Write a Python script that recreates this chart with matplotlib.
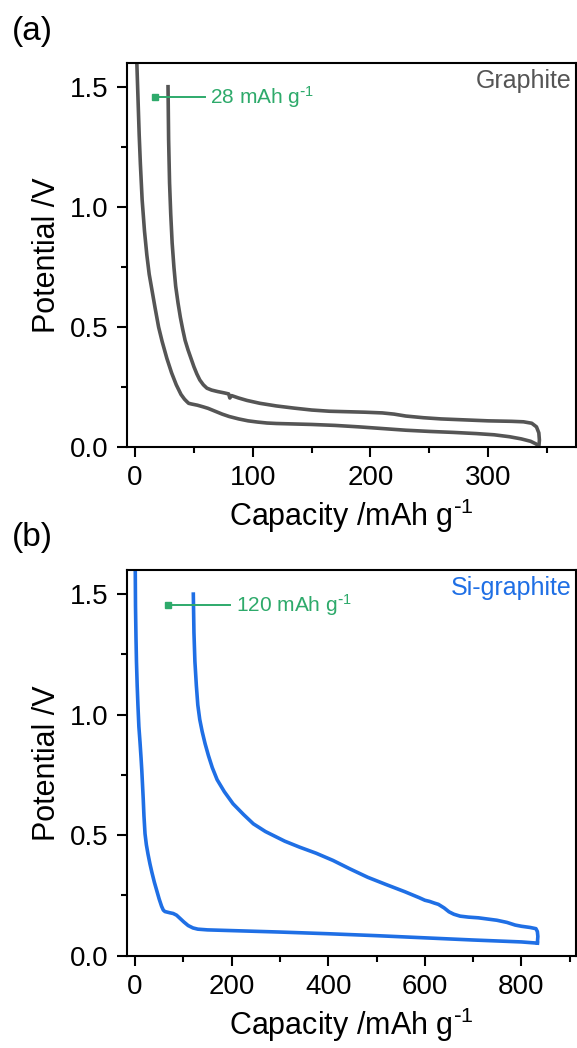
import matplotlib
matplotlib.use("Agg")
import matplotlib.pyplot as plt
from matplotlib.ticker import MultipleLocator

plt.rcParams['font.family'] = ['Liberation Sans', 'DejaVu Sans']
plt.rcParams['mathtext.default'] = 'regular'

# graphite: discharge (lower branch) and charge (upper branch)
gr_dis_x = [0.8, 1.5, 2.5, 3.5, 4.5, 6, 8, 10, 12, 14.5, 17, 20, 23, 27, 31, 35, 39, 42, 44, 45.5,
            48, 53, 58, 62, 68, 74, 80, 88, 96, 104, 112, 120, 135, 150, 170, 190, 210, 230, 250,
            270, 290, 305, 318, 328, 336, 341, 343]
gr_dis_y = [1.75, 1.6, 1.45, 1.3, 1.18, 1.03, 0.9, 0.8, 0.72, 0.65, 0.58, 0.5, 0.44, 0.37, 0.31,
            0.26, 0.22, 0.2, 0.19, 0.183, 0.18, 0.175, 0.168, 0.162, 0.15, 0.138, 0.128, 0.118, 0.11,
            0.105, 0.101, 0.099, 0.097, 0.095, 0.091, 0.085, 0.078, 0.071, 0.066, 0.062, 0.057, 0.052,
            0.044, 0.035, 0.025, 0.013, 0.0]
gr_chg_x = [343, 343.5, 343, 341, 337, 330, 320, 300, 280, 260, 245, 230, 220, 210, 195, 180, 165,
            150, 135, 120, 106, 95, 88, 82, 80.5, 79.5, 76, 70, 65, 61, 58, 55, 52.5, 50, 47.5, 45,
            42.5, 40.5, 38.5, 36.5, 34.5, 33, 31.5, 30.3, 29.3, 28.5, 28]
gr_chg_y = [0.0, 0.03, 0.06, 0.085, 0.1, 0.106, 0.108, 0.11, 0.114, 0.118, 0.123, 0.13, 0.138,
            0.143, 0.146, 0.148, 0.15, 0.155, 0.163, 0.172, 0.183, 0.195, 0.205, 0.215, 0.205, 0.222,
            0.226, 0.232, 0.238, 0.246, 0.26, 0.28, 0.305, 0.335, 0.37, 0.405, 0.445, 0.49, 0.54,
            0.6, 0.67, 0.75, 0.85, 0.97, 1.1, 1.28, 1.5]

# Si-graphite
si_dis_x = [0, 0.5, 1, 2, 3, 4.5, 6, 8, 10.4, 12.5, 14, 15.5, 17, 18.5, 20.7, 23.5, 27, 31, 35,
            40, 45, 50, 55, 58.6, 62, 66, 72, 79, 86, 93, 101, 110, 120, 130, 150, 200, 300, 400,
            500, 600, 700, 800, 833]
si_dis_y = [1.8, 1.6, 1.45, 1.32, 1.22, 1.12, 1.04, 0.95, 0.884, 0.82, 0.77, 0.71, 0.65, 0.58,
            0.506, 0.46, 0.42, 0.38, 0.345, 0.305, 0.27, 0.235, 0.205, 0.189, 0.183, 0.181, 0.178,
            0.175, 0.168, 0.155, 0.14, 0.125, 0.115, 0.11, 0.107, 0.104, 0.098, 0.091, 0.083, 0.074,
            0.065, 0.057, 0.052]
si_chg_x = [833, 834, 833, 830, 818, 800, 787, 770, 749, 730, 711, 690, 673, 660, 650, 640, 628,
            620, 610, 600, 589, 559, 520, 482, 445, 410, 375, 341, 310, 293, 270, 245, 225, 203,
            185, 170, 160, 152, 145, 139, 134, 130, 127, 124, 122, 120.7]
si_chg_y = [0.052, 0.08, 0.1, 0.112, 0.117, 0.122, 0.127, 0.138, 0.147, 0.152, 0.157, 0.16, 0.164,
            0.172, 0.182, 0.198, 0.213, 0.218, 0.225, 0.23, 0.24, 0.265, 0.295, 0.325, 0.36, 0.395,
            0.425, 0.45, 0.475, 0.492, 0.515, 0.547, 0.585, 0.63, 0.68, 0.73, 0.78, 0.83, 0.88, 0.93,
            0.98, 1.04, 1.12, 1.22, 1.34, 1.5]

panels = [
    dict(tag='(a)', name='Graphite', color='#555555', dis=(gr_dis_x, gr_dis_y),
         chg=(gr_chg_x, gr_chg_y), irr=r'28 mAh g$^{\text{-}1}$', mark=(16.7, 59, 64, 1.457),
         xlim=(-7.1, 374.6), major=100, minor=50, rect=[0.2196, 0.5732, 0.7787, 0.367], tagy=0.970),
    dict(tag='(b)', name='Si-graphite', color='#1F6FE5', dis=(si_dis_x, si_dis_y),
         chg=(si_chg_x, si_chg_y), irr=r'120 mAh g$^{\text{-}1}$', mark=(68.9, 196.7, 210, 1.456),
         xlim=(-17.2, 913), major=200, minor=100, rect=[0.2196, 0.0881, 0.7787, 0.368], tagy=0.487),
]
green = '#2EAA6B'

fig = plt.figure(figsize=(5.77, 10.48), dpi=100)

for p in panels:
    ax = fig.add_axes(p['rect'])
    ax.plot(*p['dis'], color=p['color'], lw=2.6, solid_joinstyle='round')
    ax.plot(*p['chg'], color=p['color'], lw=2.6, solid_joinstyle='round')
    x0, x1, xt, yv = p['mark']
    ax.plot([x0, x1], [yv, yv], color=green, lw=1.4)
    ax.plot([x0], [yv], 's', color=green, ms=5)
    ax.text(xt, yv, p['irr'], color=green, fontsize=15, va='center', ha='left')
    ax.text(0.99, 0.953, p['name'], color=p['color'], fontsize=18, ha='right', va='center',
            transform=ax.transAxes)

    ax.set_xlim(*p['xlim'])
    ax.set_ylim(0, 1.6)
    ax.xaxis.set_major_locator(MultipleLocator(p['major']))
    ax.xaxis.set_minor_locator(MultipleLocator(p['minor']))
    ax.yaxis.set_major_locator(MultipleLocator(0.5))
    ax.yaxis.set_minor_locator(MultipleLocator(0.25))
    ax.yaxis.set_major_formatter(plt.FormatStrFormatter('%.1f'))
    ax.tick_params(which='both', direction='out', width=1.5, top=False, right=False)
    ax.tick_params(which='major', length=7, labelsize=20, pad=6)
    ax.tick_params(which='minor', length=4)
    for s in ax.spines.values():
        s.set_linewidth(1.5)
    ax.set_xlabel(r'Capacity /mAh g$^{\text{-}1}$', fontsize=22, labelpad=4)
    ax.set_ylabel('Potential /V', fontsize=22, labelpad=6)
    fig.text(0.02, p['tagy'], p['tag'], fontsize=24, ha='left', va='center')

fig.savefig('out.png', dpi=100)
